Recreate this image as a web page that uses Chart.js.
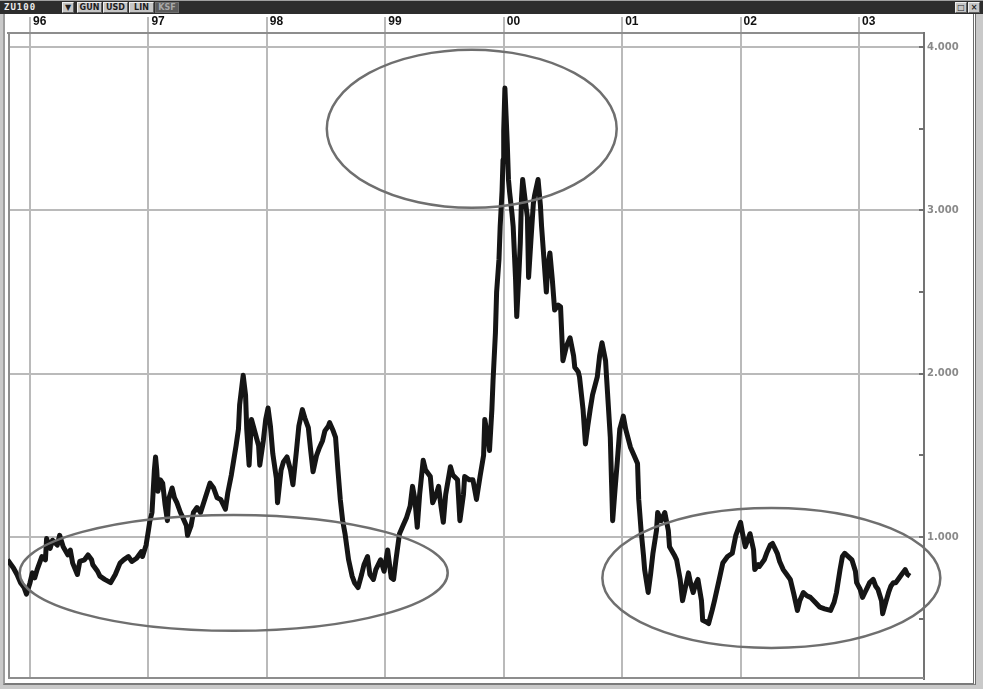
<!DOCTYPE html>
<html>
<head>
<meta charset="utf-8">
<script src="https://cdn.jsdelivr.net/npm/chart.js@4.4.1/dist/chart.umd.min.js"></script>
<style>
  html, body { margin: 0; padding: 0; width: 983px; height: 689px; overflow: hidden; background: #c9c9c9; }
  #bar { position: absolute; left: 0; top: 0; width: 983px; height: 14px; background: #2d2d2d; border-top: 1px solid #a0a0a0; box-sizing: border-box; }
  .sym { position: absolute; left: 4px; top: 1px; color: #ececec; font: bold 9px 'DejaVu Sans Mono', monospace; letter-spacing: 1px; }
  .btn { position: absolute; top: 1px; height: 11px; background: #c6c6c6; color: #1e1e1e; font: bold 8px 'DejaVu Sans', sans-serif;
         line-height: 10px; text-align: center; box-sizing: border-box; border: 1px solid #efefef; border-right-color: #5e5e5e; border-bottom-color: #5e5e5e; }
  .btn.off { background: #5a5a5a; color: #a8a8a8; border-color: #6e6e6e; }
  #panel { position: absolute; left: 3px; top: 14px; width: 973px; height: 671px; background: #fff;
           border-left: 2px solid #9c9c9c; border-right: 3px double #6c6c6c; border-bottom: 2px solid #7a7a7a; box-sizing: border-box; }
  #chart { position: absolute; left: 0; top: 15px; }
</style>
</head>
<body>
<div id="bar">
  <span class="sym">ZU100</span>
  <div class="btn" style="left:62px;width:12px;">&#9660;</div>
  <div class="btn" style="left:77px;width:25px;">GUN</div>
  <div class="btn" style="left:103px;width:25px;">USD</div>
  <div class="btn" style="left:129px;width:25px;">LIN</div>
  <div class="btn off" style="left:155px;width:24px;">KSF</div>
  <div class="btn" style="left:955px;width:12px;">&#9633;</div>
  <div class="btn" style="left:968px;width:12px;">&#215;</div>
</div>
<div id="panel"></div>
<canvas id="chart" width="983" height="674"></canvas>

<script>
/* ── Data ───────────────────────────────────────── */
const years = [
  1995.81, 1995.86, 1995.89, 1995.92, 1995.95, 1995.97, 1996.00, 1996.02, 1996.04, 1996.06,
  1996.10, 1996.13, 1996.14, 1996.17, 1996.19, 1996.23, 1996.25, 1996.28, 1996.32, 1996.34,
  1996.36, 1996.40, 1996.42, 1996.46, 1996.49, 1996.52, 1996.53, 1996.57, 1996.59, 1996.63,
  1996.68, 1996.72, 1996.76, 1996.79, 1996.83, 1996.86, 1996.90, 1996.94, 1996.95, 1996.98,
  1997.00, 1997.01, 1997.03, 1997.05, 1997.06, 1997.07, 1997.08, 1997.10, 1997.12, 1997.14,
  1997.16, 1997.17, 1997.20, 1997.22, 1997.24, 1997.27, 1997.29, 1997.32, 1997.33, 1997.36,
  1997.38, 1997.41, 1997.44, 1997.48, 1997.52, 1997.55, 1997.58, 1997.61, 1997.65, 1997.67,
  1997.70, 1997.72, 1997.74, 1997.76, 1997.77, 1997.79, 1997.80, 1997.82, 1997.83, 1997.85,
  1997.87, 1997.90, 1997.93, 1997.94, 1997.97, 1997.99, 1998.01, 1998.03, 1998.05, 1998.08,
  1998.09, 1998.12, 1998.14, 1998.17, 1998.20, 1998.22, 1998.25, 1998.27, 1998.30, 1998.32,
  1998.35, 1998.37, 1998.39, 1998.42, 1998.44, 1998.47, 1998.49, 1998.52, 1998.53, 1998.56,
  1998.58, 1998.60, 1998.62, 1998.64, 1998.66, 1998.69, 1998.72, 1998.74, 1998.77, 1998.80,
  1998.82, 1998.85, 1998.87, 1998.90, 1998.92, 1998.96, 1998.99, 1999.02, 1999.05, 1999.07,
  1999.09, 1999.12, 1999.15, 1999.18, 1999.21, 1999.23, 1999.25, 1999.27, 1999.29, 1999.32,
  1999.34, 1999.38, 1999.40, 1999.43, 1999.45, 1999.47, 1999.49, 1999.51, 1999.55, 1999.57,
  1999.61, 1999.63, 1999.66, 1999.67, 1999.71, 1999.74, 1999.77, 1999.80, 1999.83, 1999.84,
  1999.87, 1999.88, 1999.90, 1999.91, 1999.93, 1999.94, 1999.96, 1999.97, 1999.986, 1999.994,
  2000.00, 2000.01, 2000.02, 2000.03, 2000.04, 2000.05, 2000.07, 2000.08, 2000.10, 2000.11,
  2000.13, 2000.14, 2000.15, 2000.16, 2000.18, 2000.20, 2000.21, 2000.23, 2000.25, 2000.26,
  2000.29, 2000.31, 2000.32, 2000.34, 2000.36, 2000.37, 2000.39, 2000.41, 2000.43, 2000.46,
  2000.48, 2000.50, 2000.53, 2000.56, 2000.59, 2000.60, 2000.63, 2000.64, 2000.67, 2000.69,
  2000.71, 2000.73, 2000.75, 2000.79, 2000.81, 2000.83, 2000.86, 2000.87, 2000.90, 2000.91,
  2000.92, 2000.94, 2000.96, 2000.98, 2001.01, 2001.03, 2001.07, 2001.10, 2001.13, 2001.14,
  2001.16, 2001.18, 2001.19, 2001.22, 2001.24, 2001.26, 2001.29, 2001.30, 2001.33, 2001.36,
  2001.39, 2001.40, 2001.44, 2001.46, 2001.49, 2001.51, 2001.54, 2001.56, 2001.58, 2001.60,
  2001.62, 2001.64, 2001.67, 2001.68, 2001.71, 2001.73, 2001.76, 2001.78, 2001.82, 2001.85,
  2001.89, 2001.93, 2001.96, 2002.00, 2002.02, 2002.04, 2002.06, 2002.08, 2002.11, 2002.12,
  2002.15, 2002.16, 2002.20, 2002.22, 2002.25, 2002.27, 2002.29, 2002.31, 2002.33, 2002.36,
  2002.39, 2002.42, 2002.45, 2002.48, 2002.50, 2002.53, 2002.56, 2002.59, 2002.63, 2002.67,
  2002.71, 2002.76, 2002.79, 2002.81, 2002.84, 2002.86, 2002.88, 2002.91, 2002.94, 2002.97,
  2002.98, 2003.01, 2003.03, 2003.05, 2003.07, 2003.09, 2003.12, 2003.14, 2003.16, 2003.19,
  2003.20, 2003.23, 2003.25, 2003.27, 2003.29, 2003.31, 2003.33, 2003.36, 2003.39, 2003.41,
  2003.43
];

const values = [
  0.86, 0.81, 0.77, 0.72, 0.69, 0.65, 0.72, 0.78, 0.75, 0.80,
  0.88, 0.86, 0.99, 0.93, 0.98, 0.95, 1.01, 0.94, 0.89, 0.92,
  0.84, 0.77, 0.85, 0.86, 0.89, 0.86, 0.83, 0.79, 0.76, 0.74,
  0.72, 0.77, 0.84, 0.86, 0.88, 0.85, 0.87, 0.91, 0.88, 0.95,
  1.04, 1.09, 1.15, 1.41, 1.49, 1.41, 1.28, 1.35, 1.33, 1.20,
  1.10, 1.23, 1.30, 1.24, 1.21, 1.15, 1.12, 1.07, 1.01, 1.07,
  1.15, 1.18, 1.15, 1.24, 1.33, 1.30, 1.24, 1.23, 1.17, 1.27,
  1.38, 1.47, 1.56, 1.66, 1.81, 1.93, 1.99, 1.87, 1.66, 1.44,
  1.72, 1.64, 1.56, 1.44, 1.59, 1.72, 1.79, 1.68, 1.51, 1.36,
  1.21, 1.41, 1.46, 1.49, 1.41, 1.32, 1.53, 1.68, 1.78, 1.73,
  1.67, 1.53, 1.40, 1.50, 1.54, 1.59, 1.65, 1.68, 1.70, 1.65,
  1.61, 1.41, 1.23, 1.10, 1.02, 0.86, 0.76, 0.72, 0.69, 0.77,
  0.83, 0.88, 0.77, 0.74, 0.80, 0.86, 0.79, 0.92, 0.75, 0.74,
  0.86, 1.02, 1.07, 1.12, 1.19, 1.31, 1.23, 1.06, 1.26, 1.47,
  1.41, 1.37, 1.21, 1.26, 1.31, 1.19, 1.09, 1.26, 1.43, 1.38,
  1.35, 1.10, 1.26, 1.37, 1.35, 1.35, 1.23, 1.37, 1.50, 1.72,
  1.59, 1.53, 1.78, 1.96, 2.25, 2.50, 2.70, 2.90, 3.12, 3.31,
  3.49, 3.75, 3.58, 3.41, 3.19, 3.11, 2.98, 2.90, 2.58, 2.35,
  2.64, 2.80, 3.07, 3.19, 3.07, 2.96, 2.59, 2.82, 3.04, 3.09,
  3.19, 3.03, 2.90, 2.70, 2.50, 2.64, 2.74, 2.58, 2.39, 2.42,
  2.41, 2.08, 2.17, 2.22, 2.11, 2.04, 2.01, 1.98, 1.78, 1.57,
  1.68, 1.78, 1.87, 1.98, 2.11, 2.19, 2.08, 1.96, 1.61, 1.35,
  1.10, 1.29, 1.47, 1.66, 1.74, 1.66, 1.55, 1.50, 1.45, 1.23,
  1.04, 0.89, 0.80, 0.66, 0.77, 0.90, 1.04, 1.15, 1.10, 1.15,
  1.04, 0.94, 0.89, 0.86, 0.74, 0.61, 0.71, 0.78, 0.71, 0.66,
  0.71, 0.74, 0.61, 0.49, 0.48, 0.47, 0.55, 0.61, 0.74, 0.84,
  0.88, 0.90, 1.01, 1.09, 1.01, 0.94, 0.98, 1.02, 0.92, 0.80,
  0.83, 0.82, 0.86, 0.90, 0.95, 0.96, 0.93, 0.90, 0.85, 0.80,
  0.77, 0.74, 0.65, 0.55, 0.61, 0.66, 0.64, 0.63, 0.60, 0.57,
  0.56, 0.55, 0.60, 0.66, 0.80, 0.88, 0.90, 0.88, 0.86, 0.79,
  0.72, 0.68, 0.63, 0.66, 0.69, 0.72, 0.74, 0.70, 0.68, 0.61,
  0.53, 0.61, 0.66, 0.70, 0.72, 0.72, 0.74, 0.77, 0.80, 0.77,
  0.76
];

/* axis range and hand-drawn rings (data units) */
const xRange = [1995.814, 2003.549];
const yRange = [0.13, 4.087];
const rings = [
  { x: 1997.72, y: 0.78, rx: 1.807, ry: 0.355 },
  { x: 1999.73, y: 3.50, rx: 1.224, ry: 0.484 },
  { x: 2002.26, y: 0.749, rx: 1.427, ry: 0.429 }
];

const isWhole = v => Math.abs(v - Math.round(v)) < 1e-6;

/* ── Plugins ──────────────────────────── */
const frame = {
  id: 'frame',
  beforeDatasetsDraw(chart) {
    const { ctx, chartArea: a } = chart;
    ctx.save();
    ctx.strokeStyle = '#8d8d8d';
    ctx.lineWidth = 2;
    ctx.beginPath();
    ctx.moveTo(a.left + 1, a.top);
    ctx.lineTo(a.left + 1, a.bottom - 1);
    ctx.lineTo(a.right, a.bottom - 1);
    ctx.stroke();
    ctx.restore();
  },
  afterDatasetsDraw(chart) {
    const { ctx, chartArea: a, scales } = chart;
    ctx.save();
    // little inward tick marks on the price axis
    ctx.strokeStyle = '#707070';
    ctx.lineWidth = 2;
    scales.y.ticks.forEach(t => {
      const py = Math.round(scales.y.getPixelForValue(t.value));
      ctx.beginPath();
      ctx.moveTo(a.right - 5, py);
      ctx.lineTo(a.right, py);
      ctx.stroke();
    });
    // rings
    ctx.strokeStyle = '#6f6f6f';
    ctx.lineWidth = 2.5;
    rings.forEach(r => {
      const cx = scales.x.getPixelForValue(r.x);
      const cy = scales.y.getPixelForValue(r.y);
      const rx = scales.x.getPixelForValue(r.x + r.rx) - cx;
      const ry = cy - scales.y.getPixelForValue(r.y + r.ry);
      ctx.beginPath();
      ctx.ellipse(cx, cy, rx, ry, 0, 0, Math.PI * 2);
      ctx.stroke();
    });
    ctx.restore();
  }
};

/* ── Chart ────────────────────────────── */
new Chart(document.getElementById('chart'), {
  type: 'line',
  data: {
    datasets: [{
      data: years.map((x, i) => ({ x, y: values[i] })),
      borderColor: '#151515',
      borderWidth: 5,
      pointRadius: 0,
      tension: 0,
      borderJoinStyle: 'round'
    }]
  },
  options: {
    responsive: false,
    animation: false,
    events: [],
    layout: { padding: { left: 8, right: 8, top: 0, bottom: 10 } },
    plugins: { legend: { display: false }, tooltip: { enabled: false } },
    scales: {
      x: {
        type: 'linear',
        position: 'top',
        min: xRange[0],
        max: xRange[1],
        afterFit: s => { s.height = 18; },
        grid: { color: '#bababa', lineWidth: 2, tickLength: 16 },
        border: { color: '#8d8d8d', width: 2 },
        ticks: {
          stepSize: 1,
          includeBounds: false,
          autoSkip: false,
          maxRotation: 0,
          align: 'start',
          labelOffset: 3,
          padding: -12,
          color: '#111',
          font: { family: "'Liberation Sans Narrow', 'Liberation Sans', sans-serif", size: 12, weight: 'bold' },
          callback: v => String(Math.round(v)).slice(2)
        }
      },
      y: {
        type: 'linear',
        position: 'right',
        min: yRange[0],
        max: yRange[1],
        afterFit: s => { s.width = 51; },
        grid: {
          drawTicks: false,
          lineWidth: 2,
          color: c => (c.tick && isWhole(c.tick.value)) ? '#bababa' : 'rgba(0,0,0,0)'
        },
        border: { color: '#747474', width: 2 },
        ticks: {
          stepSize: 0.5,
          includeBounds: false,
          autoSkip: false,
          padding: 3,
          color: '#8a8a8a',
          font: { family: "'DejaVu Sans', sans-serif", size: 10, weight: 'bold' },
          callback: v => isWhole(v) ? Math.round(v).toFixed(3) : ''
        }
      }
    }
  },
  plugins: [frame]
});
</script>
</body>
</html>
